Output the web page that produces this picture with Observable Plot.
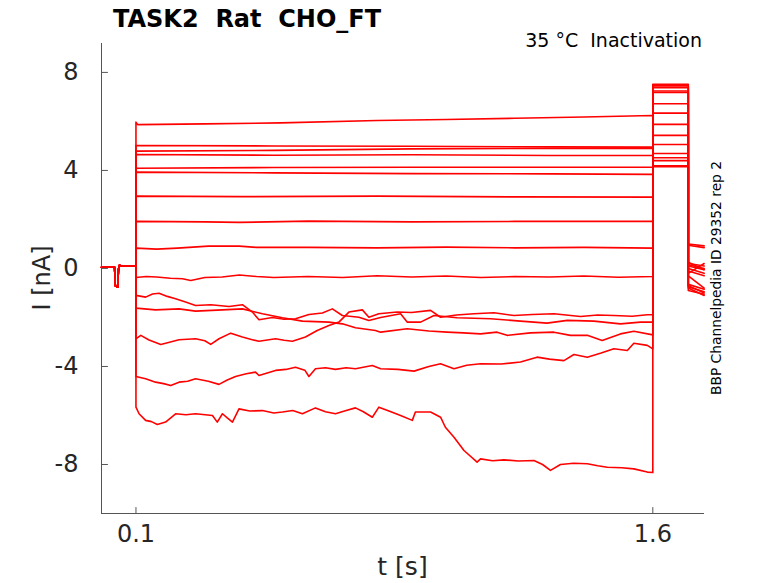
<!DOCTYPE html>
<html><head><meta charset="utf-8">
<script src="https://cdn.jsdelivr.net/npm/d3@7"></script>
<script src="https://cdn.jsdelivr.net/npm/@observablehq/plot@0.6"></script>
<style>body{margin:0;background:#fff} svg{font-family:"DejaVu Sans"}</style>
</head><body><div id="chart"></div>
<script>
// axis setup
const xTicks = [0.1, 1.6];
const yTicks = [8, 4, 0, -4, -8];
const xDomain = [0, 1.75];
const yDomain = [-10, 9.18];

// shared holding segment (0 - 0.1 s) with the small test dip
const baseline = [[0,0.05],[0.02,0.06],[0.038,0.05],[0.04,-0.7],[0.047,-0.76],[0.049,-0.1],[0.051,0.12],[0.075,0.09],[0.1,0.1]];

// prepulse segments (0.1 - 1.6 s), [t, I]
const stepF = [[0.1,-5.66],[0.109,-5.93],[0.128,-6.2],[0.145,-6.25],[0.162,-6.37],[0.186,-6.27],[0.215,-5.93],[0.245,-5.97],[0.273,-5.93],[0.322,-6.0],[0.336,-6.27],[0.351,-5.93],[0.365,-6.1],[0.38,-6.27],[0.399,-5.73],[0.43,-5.82],[0.467,-5.8],[0.5,-5.9],[0.525,-5.86],[0.555,-5.8],[0.583,-5.93],[0.621,-5.69],[0.65,-5.85],[0.679,-5.93],[0.71,-5.8],[0.737,-5.69],[0.76,-5.85],[0.786,-6.07],[0.805,-5.66],[0.84,-5.85],[0.868,-6.0],[0.902,-6.2],[0.911,-5.86],[0.955,-5.86],[0.984,-6.07],[0.998,-6.48],[1.023,-6.89],[1.052,-7.43],[1.09,-7.9],[1.1,-7.77],[1.135,-7.85],[1.168,-7.81],[1.21,-7.86],[1.255,-7.84],[1.28,-8.0],[1.303,-8.24],[1.332,-8.0],[1.37,-7.95],[1.41,-7.97],[1.44,-8.05],[1.468,-8.11],[1.51,-8.13],[1.545,-8.18],[1.584,-8.31],[1.6,-8.33]];
const stepE = [[0.1,-4.41],[0.128,-4.5],[0.157,-4.64],[0.18,-4.7],[0.201,-4.78],[0.225,-4.64],[0.25,-4.6],[0.273,-4.5],[0.31,-4.6],[0.341,-4.73],[0.365,-4.55],[0.389,-4.41],[0.42,-4.3],[0.447,-4.23],[0.457,-4.37],[0.505,-4.16],[0.535,-4.12],[0.563,-4.03],[0.59,-4.15],[0.602,-4.41],[0.621,-4.09],[0.65,-4.05],[0.679,-4.12],[0.71,-4.05],[0.737,-4.09],[0.786,-3.96],[0.81,-4.09],[0.86,-4.12],[0.907,-4.19],[0.95,-4.0],[0.984,-3.89],[1.023,-4.09],[1.06,-3.95],[1.1,-3.89],[1.16,-3.9],[1.216,-3.82],[1.264,-3.62],[1.3,-3.7],[1.342,-3.76],[1.371,-3.51],[1.41,-3.62],[1.45,-3.45],[1.487,-3.28],[1.526,-3.35],[1.545,-3.05],[1.584,-3.14],[1.6,-3.28]];
const stepD = [[0.1,-2.87],[0.114,-2.73],[0.138,-2.92],[0.172,-3.1],[0.2,-3.0],[0.225,-2.91],[0.273,-2.87],[0.3,-2.95],[0.317,-3.1],[0.341,-2.87],[0.375,-2.64],[0.409,-2.8],[0.435,-2.9],[0.457,-2.97],[0.505,-2.87],[0.53,-2.93],[0.554,-2.97],[0.592,-2.8],[0.626,-2.53],[0.66,-2.33],[0.689,-2.19],[0.718,-1.78],[0.757,-1.69],[0.776,-1.99],[0.805,-1.85],[0.858,-1.78],[0.9,-1.8],[0.955,-1.71],[0.984,-1.99],[1.03,-1.9],[1.081,-1.85],[1.139,-1.81],[1.197,-1.92],[1.25,-1.88],[1.313,-1.85],[1.39,-1.96],[1.44,-1.9],[1.487,-1.92],[1.54,-1.95],[1.584,-1.89],[1.6,-1.89]];
const stepC = [[0.1,-1.62],[0.157,-1.69],[0.225,-1.65],[0.273,-1.74],[0.351,-1.69],[0.409,-1.65],[0.467,-1.85],[0.525,-2.01],[0.583,-2.15],[0.66,-2.19],[0.699,-2.26],[0.737,-2.42],[0.795,-2.53],[0.81,-2.6],[0.887,-2.46],[0.95,-2.55],[1.003,-2.6],[1.05,-2.63],[1.1,-2.67],[1.148,-2.6],[1.177,-2.73],[1.245,-2.63],[1.313,-2.6],[1.361,-2.73],[1.41,-2.73],[1.453,-2.94],[1.506,-2.67],[1.545,-2.56],[1.6,-2.71]];
const stepB = [[0.1,-1.1],[0.128,-1.17],[0.148,-1.04],[0.167,-1.01],[0.191,-1.14],[0.215,-1.24],[0.244,-1.37],[0.273,-1.51],[0.317,-1.48],[0.37,-1.55],[0.409,-1.48],[0.438,-1.78],[0.457,-2.09],[0.496,-2.0],[0.53,-2.07],[0.563,-2.05],[0.602,-1.88],[0.641,-1.82],[0.67,-1.65],[0.699,-1.92],[0.747,-1.99],[0.776,-2.12],[0.81,-2.0],[0.868,-1.85],[0.887,-2.19],[0.926,-2.19],[0.965,-1.92],[1.032,-2.01],[1.129,-2.05],[1.216,-2.15],[1.293,-2.23],[1.352,-2.12],[1.429,-2.15],[1.506,-2.26],[1.564,-2.19],[1.6,-2.19]];
const stepA = [[0.1,-0.37],[0.13,-0.33],[0.16,-0.35],[0.2,-0.4],[0.235,-0.42],[0.259,-0.49],[0.3,-0.37],[0.35,-0.35],[0.4,-0.27],[0.45,-0.33],[0.5,-0.37],[0.6,-0.33],[0.7,-0.37],[0.8,-0.3],[0.9,-0.35],[1.0,-0.31],[1.1,-0.37],[1.2,-0.33],[1.3,-0.35],[1.4,-0.31],[1.5,-0.36],[1.6,-0.33]];
const stepT9 = [[0.1,0.83],[0.16,0.79],[0.22,0.83],[0.31,0.91],[0.4,0.91],[0.45,0.86],[0.6,0.86],[0.8,0.84],[1.0,0.87],[1.2,0.84],[1.4,0.86],[1.6,0.83]];
const stepT8 = [[0.1,1.92],[0.3,1.9],[0.4,1.88],[0.6,1.93],[0.9,1.9],[1.2,1.92],[1.6,1.92]];
const stepT7 = [[0.1,2.95],[0.4,2.93],[0.8,2.95],[1.2,2.92],[1.6,2.91]];
const stepT6 = [[0.1,3.93],[0.5,3.9],[0.9,3.87],[1.3,3.86],[1.6,3.84]];
const stepT5 = [[0.1,4.09],[0.5,4.12],[0.9,4.13],[1.3,4.13],[1.6,4.13]];
const stepT4 = [[0.1,4.65],[0.5,4.62],[0.9,4.64],[1.3,4.61],[1.6,4.61]];
const stepT3 = [[0.1,4.79],[0.5,4.82],[0.9,4.88],[1.3,4.9],[1.6,4.91]];
const stepT2 = [[0.1,5.02],[0.5,5.0],[0.9,4.99],[1.3,4.96],[1.6,4.95]];
const stepT1 = [[0.1,5.97],[0.105,5.87],[0.3,5.9],[0.52,5.94],[0.8,6.04],[1.0,6.08],[1.2,6.13],[1.4,6.18],[1.6,6.24]];

const sweepNames = ["F","E","D","C","B","A","T9","T8","T7","T6","T5","T4","T3","T2","T1"];
const steps = [stepF, stepE, stepD, stepC, stepB, stepA, stepT9, stepT8, stepT7, stepT6, stepT5, stepT4, stepT3, stepT2, stepT1];
// test pulse (1.6 - 1.703 s) level per sweep
const tailLevels = [7.52, 7.45, 7.38, 7.24, 7.18, 6.72, 6.34, 5.88, 5.43, 5.06, 4.69, 4.52, 4.4, 4.19, 4.15];
// return to holding (1.703 - 1.749 s)
const postStart = [-0.75, -0.8, -0.7, -0.65, -0.9, -0.3, 0.25, 0.2, 0.15, 0.1, 0.0, -0.1, -0.2, 0.95, 1.0];
const postEnd   = [-0.95, -1.1, -1.0, -0.85, -1.05, -0.8, -0.05, 0.1, 0.0, -0.05, -0.2, -0.3, 0.2, 0.85, 0.92];
const tailStart = 1.6, tailEnd = 1.703, recordEnd = 1.749;

const rows = [];
sweepNames.forEach((name, i) => {
  baseline.forEach(([t, I]) => rows.push({sweep: name, t, I}));
  steps[i].forEach(([t, I]) => rows.push({sweep: name, t, I}));
  rows.push({sweep: name, t: tailStart, I: tailLevels[i]});
  rows.push({sweep: name, t: tailEnd, I: tailLevels[i]});
  rows.push({sweep: name, t: tailEnd, I: postStart[i]});
  rows.push({sweep: name, t: recordEnd, I: postEnd[i]});
});

const axisColor = "#555";
const textColor = "#262626";
const fmt = d => (d < 0 ? "-" + Math.abs(d) : String(d));
const tickShape = {draw(context, l) { context.moveTo(0, 0); context.lineTo(0, -l); }};

const plot = Plot.plot({
  width: 778, height: 583,
  marginLeft: 101, marginRight: 74, marginTop: 43, marginBottom: 70,
  style: {fontFamily: "DejaVu Sans", fontSize: "24px", color: textColor, background: "#fff"},
  x: {domain: xDomain},
  y: {domain: yDomain},
  marks: [
    Plot.line(rows, {x: "t", y: "I", z: "sweep", stroke: "#ff0000", strokeWidth: 1.6}),
    Plot.ruleX([xDomain[0]], {stroke: axisColor}),
    Plot.ruleY([yDomain[0]], {stroke: axisColor}),
    Plot.vector(yTicks, {x: xDomain[0], y: d => d, length: 6, rotate: 90, anchor: "start", shape: tickShape, stroke: axisColor, strokeWidth: 1}),
    Plot.vector(xTicks, {x: d => d, y: yDomain[0], length: 6, rotate: 0, anchor: "start", shape: tickShape, stroke: axisColor, strokeWidth: 1}),
    Plot.axisX({ticks: xTicks, tickSize: 0, tickPadding: 11, tickFormat: fmt, label: null, fill: textColor}),
    Plot.axisY({ticks: yTicks, tickSize: 0, tickPadding: 23, tickFormat: fmt, label: null, fill: textColor})
  ]
});

const svg = d3.select(plot);
svg.append("text").attr("x", 113).attr("y", 27).attr("text-anchor", "start")
  .attr("font-size", 24).attr("font-weight", "bold").attr("fill", "#000")
  .style("white-space", "pre").text("TASK2  Rat  CHO_FT");
svg.append("text").attr("x", 702).attr("y", 47).attr("text-anchor", "end")
  .attr("font-size", 19).attr("fill", "#000")
  .style("white-space", "pre").text("35 °C  Inactivation");
svg.append("text").attr("transform", "translate(50,278) rotate(-90)").attr("text-anchor", "middle")
  .attr("font-size", 24).attr("fill", textColor).text("I [nA]");
svg.append("text").attr("x", 402.5).attr("y", 575).attr("text-anchor", "middle")
  .attr("font-size", 25).attr("fill", textColor).text("t [s]");
svg.append("text").attr("transform", "translate(721,278) rotate(-90)").attr("text-anchor", "middle")
  .attr("font-size", 13.8).attr("fill", "#000").text("BBP Channelpedia ID 29352 rep 2");

document.getElementById("chart").appendChild(plot);
</script>
</body></html>
